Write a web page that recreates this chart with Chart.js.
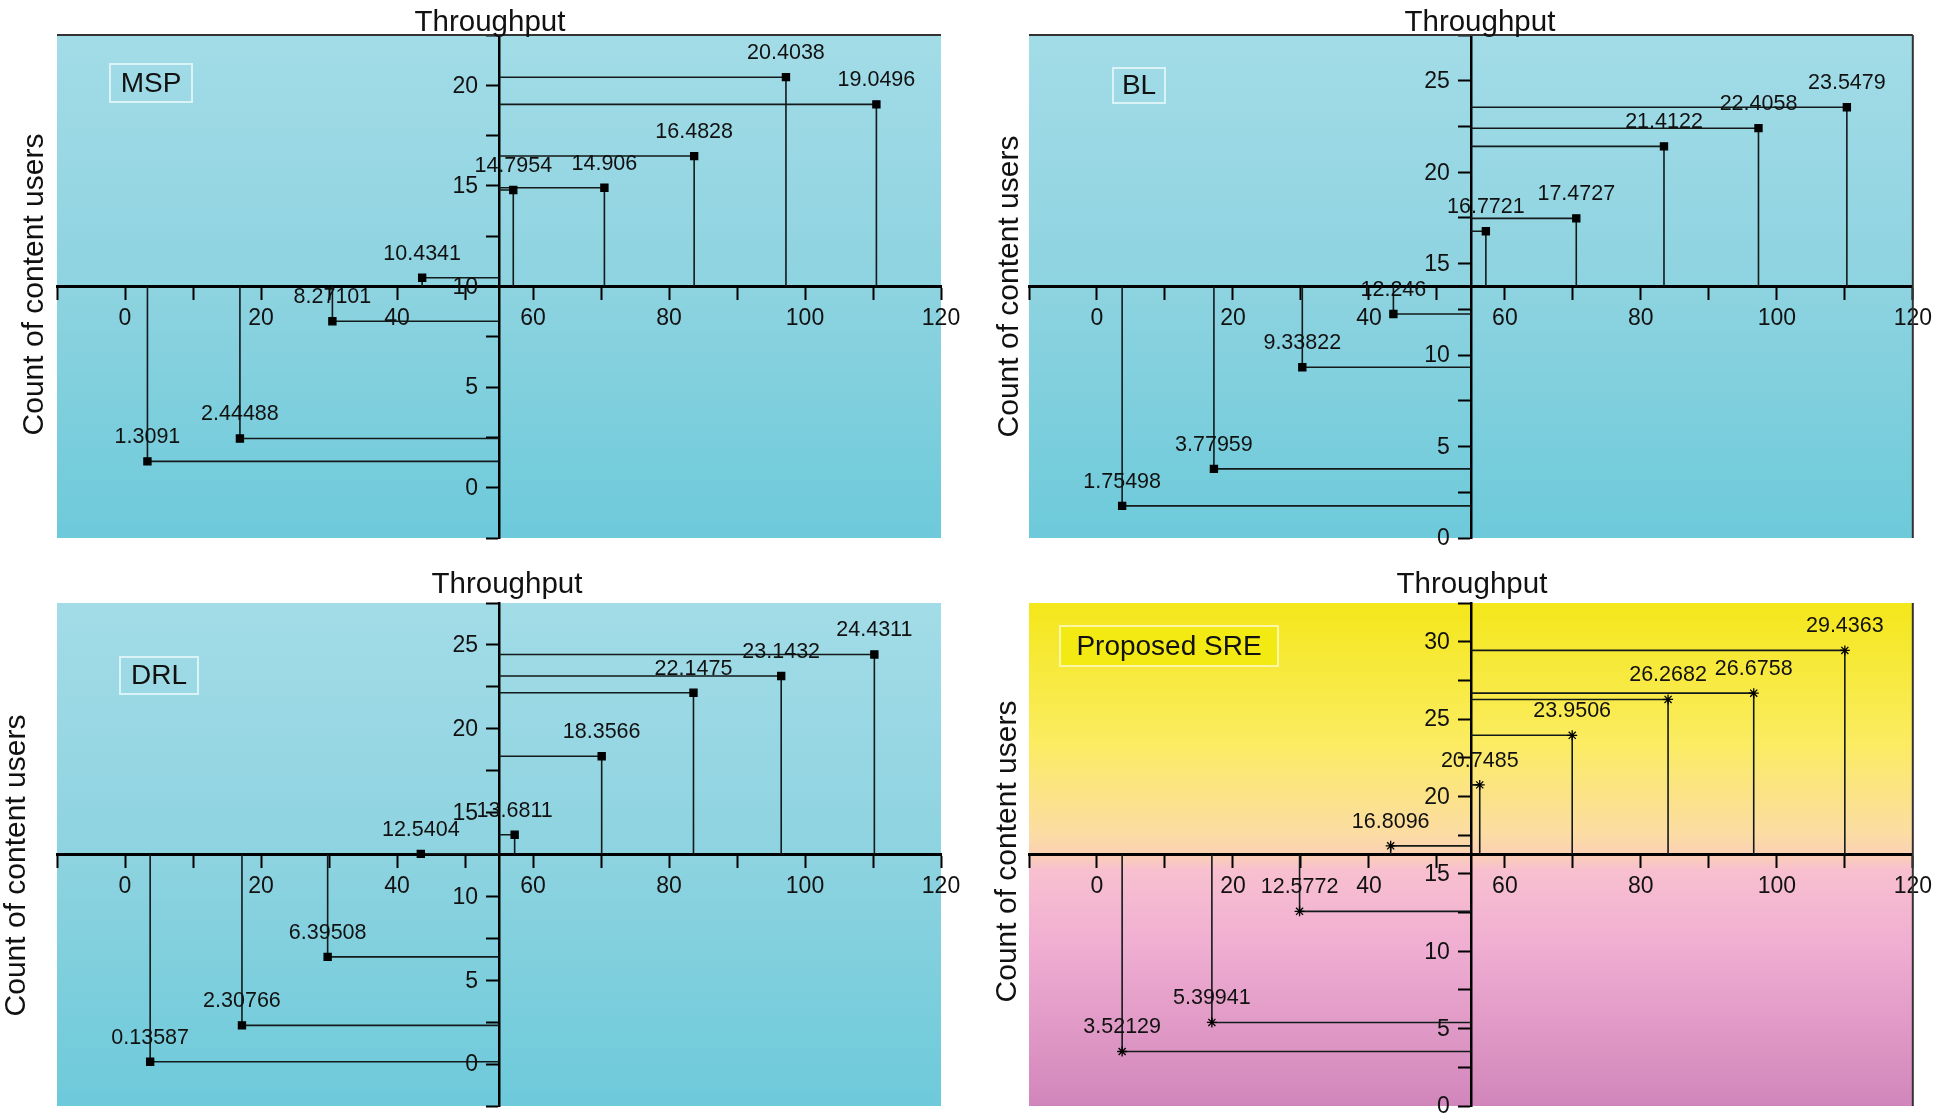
<!DOCTYPE html>
<html>
<head>
<meta charset="utf-8">
<title>Throughput vs count of content users</title>
<script src="https://cdn.jsdelivr.net/npm/chart.js@4.4.1/dist/chart.umd.min.js"></script>
<style>
  html, body { margin: 0; padding: 0; background: #fff; }
  body { width: 1940px; height: 1120px; position: relative; overflow: hidden; }
  .panel { position: absolute; width: 970px; height: 560px; }
</style>
</head>
<body>
<div class="panel" style="left:0;top:0"><canvas id="msp" width="970" height="560"></canvas></div>
<div class="panel" style="left:970px;top:0"><canvas id="bl" width="970" height="560"></canvas></div>
<div class="panel" style="left:0;top:560px"><canvas id="drl" width="970" height="560"></canvas></div>
<div class="panel" style="left:970px;top:560px"><canvas id="sre" width="970" height="560"></canvas></div>
<script>
// throughput (x) and count of content users (y) per method
const mspX = [3.3, 16.9, 30.5, 43.7, 57.1, 70.5, 83.7, 97.2, 110.5];
const mspY = [1.3091, 2.44488, 8.27101, 10.4341, 14.7954, 14.906, 16.4828, 20.4038, 19.0496];
const blX = [3.7, 17.2, 30.2, 43.6, 57.2, 70.5, 83.4, 97.3, 110.3];
const blY = [1.75498, 3.77959, 9.33822, 12.246, 16.7721, 17.4727, 21.4122, 22.4058, 23.5479];
const drlX = [3.7, 17.2, 29.8, 43.5, 57.3, 70.1, 83.6, 96.5, 110.2];
const drlY = [0.13587, 2.30766, 6.39508, 12.5404, 13.6811, 18.3566, 22.1475, 23.1432, 24.4311];
const sreX = [3.7, 16.9, 29.8, 43.2, 56.3, 69.9, 84.0, 96.6, 110.0];
const sreY = [3.52129, 5.39941, 12.5772, 16.8096, 20.7485, 23.9506, 26.2682, 26.6758, 29.4363];

// axis ranges
const xRange = [-10, 120];
const mspRange = [-2.5, 22.5];
const blRange = [0, 27.5];
const drlRange = [-2.5, 27.5];
const sreRange = [0, 32.5];

const FONT = '"Liberation Sans", Arial, sans-serif';
const cyanBg = [[0, '#a2dce7'], [0.5, '#8ed3e0'], [1, '#6dcada']];
const sreBg = [[0, '#f4e71a'], [0.28, '#fbec62'], [0.46, '#fcdca4'], [0.5, '#fbd0b4'],
  [0.53, '#f8c0cf'], [0.68, '#f0aed2'], [1, '#d186bb']];

const panelBg = {
  id: 'panelBg',
  beforeDraw(chart, args, o) {
    const { ctx, chartArea: a } = chart;
    const g = ctx.createLinearGradient(0, a.top, 0, a.bottom);
    o.stops.forEach(s => g.addColorStop(s[0], s[1]));
    ctx.save();
    ctx.fillStyle = g;
    ctx.fillRect(a.left, a.top, a.right - a.left, a.bottom - a.top);
    ctx.restore();
  }
};

const decor = {
  id: 'decor',
  afterDatasetsDraw(chart) {
    const ctx = chart.ctx;
    ctx.save();
    ctx.font = '21.5px ' + FONT;
    ctx.fillStyle = '#111';
    ctx.textAlign = 'center';
    ctx.textBaseline = 'middle';
    chart.data.datasets.forEach((ds, i) => {
      const p = chart.getDatasetMeta(i).data[1];
      ctx.fillText(ds.label, p.x, p.y - 24);
    });
    ctx.restore();
  },
  afterDraw(chart, args, o) {
    const { ctx, chartArea: a } = chart;
    const xs = chart.scales.x, ys = chart.scales.y;
    const axisX = xs.getPixelForValue((xRange[0] + xRange[1]) / 2);
    ctx.save();
    // y tick labels, left of the centred y axis
    ctx.fillStyle = '#111';
    ctx.font = '23px ' + FONT;
    ctx.textAlign = 'right';
    ctx.textBaseline = 'middle';
    ys.ticks.forEach(t => {
      if (Math.abs(t.value % 5) < 1e-6) ctx.fillText(String(t.value), axisX - 21, ys.getPixelForValue(t.value) + 1);
    });
    // frame edges
    ctx.strokeStyle = '#333';
    ctx.lineWidth = 2;
    o.edges.forEach(e => {
      ctx.beginPath();
      if (e === 'top') { ctx.moveTo(a.left, a.top); ctx.lineTo(a.right, a.top); }
      if (e === 'right') { ctx.moveTo(a.right, a.top); ctx.lineTo(a.right, a.bottom); }
      ctx.stroke();
    });
    // x title
    ctx.font = '29.5px ' + FONT;
    ctx.textAlign = 'center';
    ctx.textBaseline = 'alphabetic';
    ctx.fillText('Throughput', axisX + o.titleDx, a.top + o.titleDy);
    // y title
    ctx.save();
    ctx.translate(a.left + o.yTitleDx, (a.top + a.bottom) / 2 + o.yTitleDy);
    ctx.rotate(-Math.PI / 2);
    ctx.font = '30px ' + FONT;
    ctx.textBaseline = 'middle';
    ctx.fillText('Count of content users', 0, 0);
    ctx.restore();
    // method box
    const [bx, by, bw, bh] = o.box;
    if (o.boxFill) {
      ctx.fillStyle = o.boxFill;
      ctx.fillRect(a.left + bx, a.top + by, bw, bh);
    }
    ctx.strokeStyle = o.boxStroke;
    ctx.lineWidth = 2;
    ctx.strokeRect(a.left + bx, a.top + by, bw, bh);
    ctx.fillStyle = '#111';
    ctx.font = '28px ' + FONT;
    ctx.textBaseline = 'middle';
    ctx.fillText(o.name, a.left + bx + bw / 2, a.top + by + bh / 2 + 1);
    ctx.restore();
  }
};

function makePanel(id, xs, ys, yRange, name, style) {
  const cross = (yRange[0] + yRange[1]) / 2;
  const yAxisAt = (xRange[0] + xRange[1]) / 2;
  const datasets = xs.map((x, i) => ({
    label: String(ys[i]),
    data: [{ x: yAxisAt, y: ys[i] }, { x: x, y: ys[i] }, { x: x, y: cross }],
    showLine: true,
    borderColor: '#121a1a',
    borderWidth: 1.6,
    pointRadius: [0, style.markerSize, 0],
    pointStyle: style.marker,
    pointBackgroundColor: '#000',
    pointBorderColor: '#000',
    pointBorderWidth: 1.3,
    clip: false
  }));
  const tickFont = { family: FONT, size: 23, lineHeight: 1.1 };
  const gridOpts = { drawOnChartArea: false, drawTicks: true, tickLength: 12, tickColor: '#000', tickWidth: 2 };
  return new Chart(document.getElementById(id).getContext('2d'), {
    type: 'scatter',
    data: { datasets },
    plugins: [panelBg, decor],
    options: {
      responsive: false,
      animation: false,
      layout: { padding: style.padding },
      plugins: {
        legend: { display: false },
        tooltip: { enabled: false },
        panelBg: { stops: style.bg },
        decor: Object.assign({ name }, style.decor)
      },
      scales: {
        x: {
          type: 'linear',
          min: xRange[0],
          max: xRange[1],
          position: { y: cross },
          ticks: {
            stepSize: 10,
            autoSkip: false,
            maxRotation: 0,
            minRotation: 0,
            padding: 8,
            color: '#111',
            font: tickFont,
            callback: v => (v % 20 === 0 ? v : '')
          },
          grid: gridOpts,
          border: { display: true, color: '#000', width: 3 }
        },
        y: {
          type: 'linear',
          min: yRange[0],
          max: yRange[1],
          position: { x: yAxisAt },
          ticks: { stepSize: 2.5, autoSkip: false, includeBounds: false, display: false },
          grid: gridOpts,
          border: { display: true, color: '#000', width: 2.5 }
        }
      }
    }
  });
}

makePanel('msp', mspX, mspY, mspRange, 'MSP', {
  marker: 'rect', markerSize: 5, bg: cyanBg,
  padding: { left: 57, right: 29, top: 35, bottom: 22 },
  decor: { edges: ['top'], titleDx: -9, titleDy: -4, yTitleDx: -22, yTitleDy: -2,
    box: [53, 29, 82, 38], boxStroke: 'rgba(225,245,248,0.9)' }
});
makePanel('bl', blX, blY, blRange, 'BL', {
  marker: 'rect', markerSize: 5, bg: cyanBg,
  padding: { left: 59, right: 27, top: 35, bottom: 22 },
  decor: { edges: ['top', 'right'], titleDx: 9, titleDy: -4, yTitleDx: -19, yTitleDy: 0,
    box: [84, 33, 52, 35], boxStroke: 'rgba(225,245,248,0.9)' }
});
makePanel('drl', drlX, drlY, drlRange, 'DRL', {
  marker: 'rect', markerSize: 5, bg: cyanBg,
  padding: { left: 57, right: 29, top: 43, bottom: 14 },
  decor: { edges: [], titleDx: 8, titleDy: -10, yTitleDx: -40, yTitleDy: 11,
    box: [63, 54, 78, 37], boxStroke: 'rgba(225,245,248,0.9)' }
});
makePanel('sre', sreX, sreY, sreRange, 'Proposed SRE', {
  marker: 'star', markerSize: 5, bg: sreBg,
  padding: { left: 59, right: 27, top: 43, bottom: 14 },
  decor: { edges: ['right'], titleDx: 1, titleDy: -10, yTitleDx: -21, yTitleDy: -3,
    box: [31, 23, 218, 40], boxFill: '#f3ea14', boxStroke: '#fff7a8' }
});
</script>
</body>
</html>
